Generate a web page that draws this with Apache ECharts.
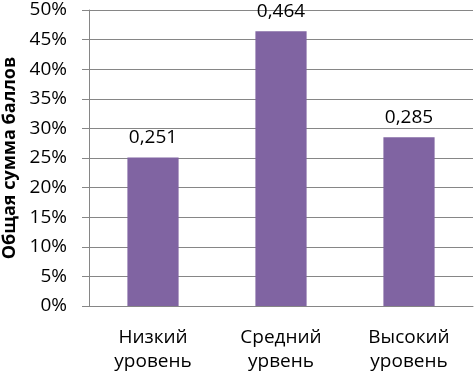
<!DOCTYPE html>
<html>
<head>
<meta charset="utf-8">
<script src="https://cdn.jsdelivr.net/npm/echarts@6/dist/echarts.min.js"></script>
<style>
  html, body { margin: 0; padding: 0; background: #fff; }
  #chart { width: 474px; height: 376px; }
</style>
</head>
<body>
<div id="chart"></div>
<script>
const categories = ['Низкий\nуровень', 'Средний\nурвень', 'Высокий\nуровень']
const values = [0.251, 0.464, 0.285]
const axisTitle = 'Общая сумма баллов'

const chart = echarts.init(document.getElementById('chart'))
const font = '"Open Sans", sans-serif'

let option = {
  backgroundColor: '#fff',
  animation: false,
  grid: {
    left: 89,
    right: 1,
    top: 10,
    bottom: 70,
    outerBoundsMode: 'none'
  },
  xAxis: {
    type: 'category',
    data: categories,
    axisLine: { lineStyle: { color: '#868686', width: 1 } },
    axisTick: { show: false },
    axisLabel: {
      interval: 0,
      color: '#000',
      fontFamily: font,
      fontSize: 19,
      lineHeight: 24,
      margin: 20
    }
  },
  yAxis: {
    type: 'value',
    min: 0,
    max: 0.5,
    interval: 0.05,
    name: axisTitle,
    nameLocation: 'middle',
    nameGap: 69,
    nameTextStyle: {
      color: '#000',
      fontFamily: font,
      fontSize: 18,
      fontWeight: 'bold'
    },
    axisLine: { show: true, lineStyle: { color: '#868686', width: 1 } },
    axisTick: { show: true, length: 7, lineStyle: { color: '#868686' } },
    splitLine: { lineStyle: { color: '#868686', width: 1 } },
    axisLabel: {
      color: '#000',
      fontFamily: font,
      fontSize: 19,
      margin: 22,
      formatter: (v) => Math.round(v * 100) + '%'
    }
  },
  series: [{
    type: 'bar',
    data: values,
    barWidth: '40%',
    itemStyle: { color: '#8064A2' },
    label: {
      show: true,
      position: 'top',
      distance: 10,
      color: '#000',
      fontFamily: font,
      fontSize: 19,
      formatter: (p) => String(p.value).replace('.', ',')
    }
  }]
}
chart.setOption(option)
</script>
</body>
</html>
